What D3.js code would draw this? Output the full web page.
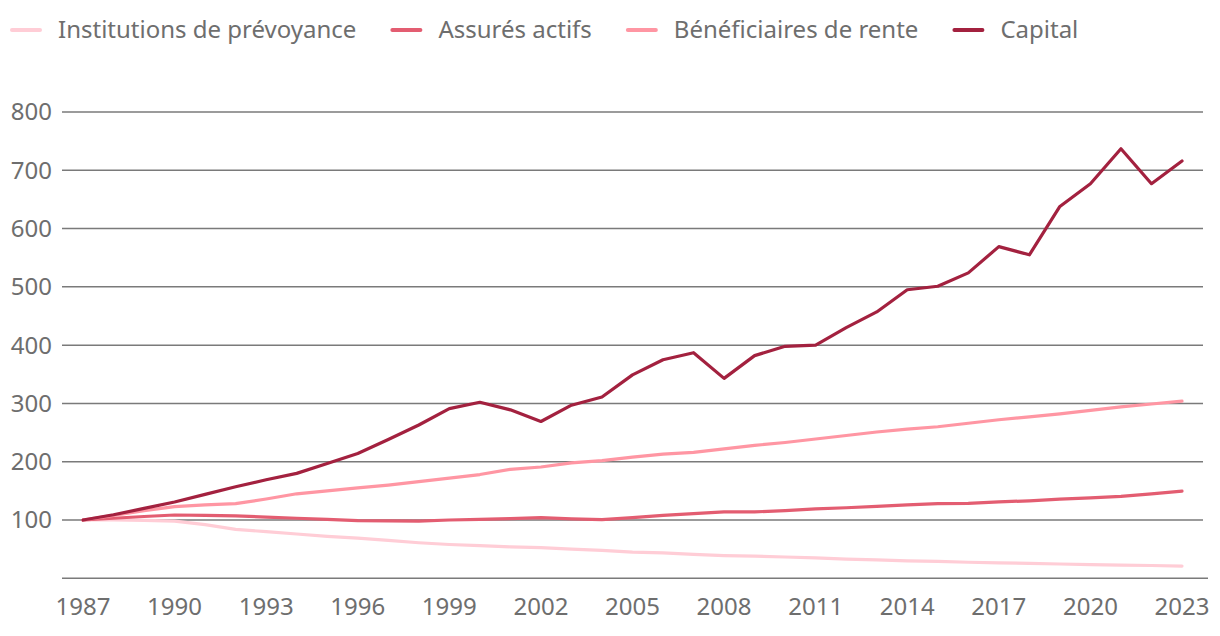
<!DOCTYPE html>
<html lang="fr">
<head>
<meta charset="UTF-8">
<title>Prévoyance professionnelle, indice 1987 = 100</title>
<style>
    body {
        margin: 0;
        background: #fff;
        font-family: "Noto Sans", "Open Sans", sans-serif;
    }
    #chart text {
        fill: #6e6e6e;
        font-size: 24px;
    }
    .grid line {
        stroke: #7a7a7a;
        stroke-width: 1.5px;
    }
    .series {
        fill: none;
        stroke-width: 3.2px;
        stroke-linejoin: round;
        stroke-linecap: round;
    }
</style>
</head>
<body>
<svg id="chart" width="1220" height="636"></svg>
<script src="https://d3js.org/d3.v7.min.js"></script>
<script>
    // indice 1987 = 100
    const years = d3.range(1987, 2024);

    const institutions = [100, 100, 99.5, 98, 92, 84, 80, 76, 72, 69, 65, 61, 58, 56, 54, 52.5, 50, 48, 45, 43.5,
        41, 39, 38, 36.5, 35, 33, 31.5, 30, 29, 27.5, 26.5, 25.5, 24.5, 23.5, 22.5, 22, 21];
    const assures = [100, 103, 106, 108.6, 108, 107, 105, 103, 101, 99, 98.5, 98, 100, 101, 102.5, 104, 102, 100.5,
        104, 108, 111, 114, 114, 116, 119, 121, 123.5, 126, 128, 128.5, 131, 133, 136, 138, 140.5, 145, 149.5];
    const beneficiaires = [100, 108, 116, 123, 126, 128, 136, 145, 150, 155, 160, 166, 172, 178, 187, 191, 198, 202,
        208, 213, 216, 222, 228, 233, 239, 245, 251, 256, 260, 266, 272, 277, 282, 288, 294, 299, 304];
    const capital = [100, 109, 120, 131, 144, 157, 169, 180, 197, 214, 238, 263, 291, 302, 289, 269, 297, 311,
        349, 375, 387, 343, 382, 398, 400, 430, 457, 495, 501, 524, 569, 555, 638, 677, 737, 677, 716];

    const seriesNames = ["Institutions de prévoyance", "Assurés actifs", "Bénéficiaires de rente", "Capital"];
    const seriesColors = ["#ffcdd6", "#e35d71", "#ff96a3", "#a3213f"];
    const seriesValues = [institutions, assures, beneficiaires, capital];

    const yTicks = [100, 200, 300, 400, 500, 600, 700, 800];
    const xTicks = d3.range(1987, 2024, 3);

    const svg = d3.select("#chart");

    const x = d3.scaleLinear().domain([1987, 2023]).range([83, 1182]);
    const y = d3.scaleLinear().domain([0, 800]).range([578.3, 112]);

    // gridlines + y labels
    const grid = svg.append("g").attr("class", "grid");
    grid.selectAll("line.h")
        .data(yTicks)
        .enter().append("line")
        .attr("x1", 62).attr("x2", 1203)
        .attr("y1", d => y(d)).attr("y2", d => y(d));
    grid.append("line")
        .attr("x1", 62).attr("x2", 1208)
        .attr("y1", y(0)).attr("y2", y(0));

    svg.append("g")
        .selectAll("text")
        .data(yTicks)
        .enter().append("text")
        .attr("x", 52)
        .attr("y", d => y(d))
        .attr("dy", "0.35em")
        .attr("text-anchor", "end")
        .text(d => d);

    svg.append("g")
        .selectAll("text")
        .data(xTicks)
        .enter().append("text")
        .attr("x", d => x(d))
        .attr("y", 615)
        .attr("text-anchor", "middle")
        .text(d => d);

    // lines
    const line = d3.line()
        .x((d, i) => x(years[i]))
        .y(d => y(d));

    svg.append("g")
        .selectAll("path")
        .data(seriesValues)
        .enter().append("path")
        .attr("class", "series")
        .attr("stroke", (d, i) => seriesColors[i])
        .attr("d", line);

    // legend
    const legend = svg.append("g");
    let lx = 12;
    seriesNames.forEach((name, i) => {
        legend.append("line")
            .attr("x1", lx).attr("x2", lx + 28)
            .attr("y1", 30).attr("y2", 30)
            .attr("stroke", seriesColors[i])
            .attr("stroke-width", 4)
            .attr("stroke-linecap", "round");
        const t = legend.append("text")
            .attr("x", lx + 46)
            .attr("y", 30)
            .attr("dy", "0.35em")
            .text(name);
        lx += 46 + t.node().getComputedTextLength() + 36;
    });
</script>
</body>
</html>
